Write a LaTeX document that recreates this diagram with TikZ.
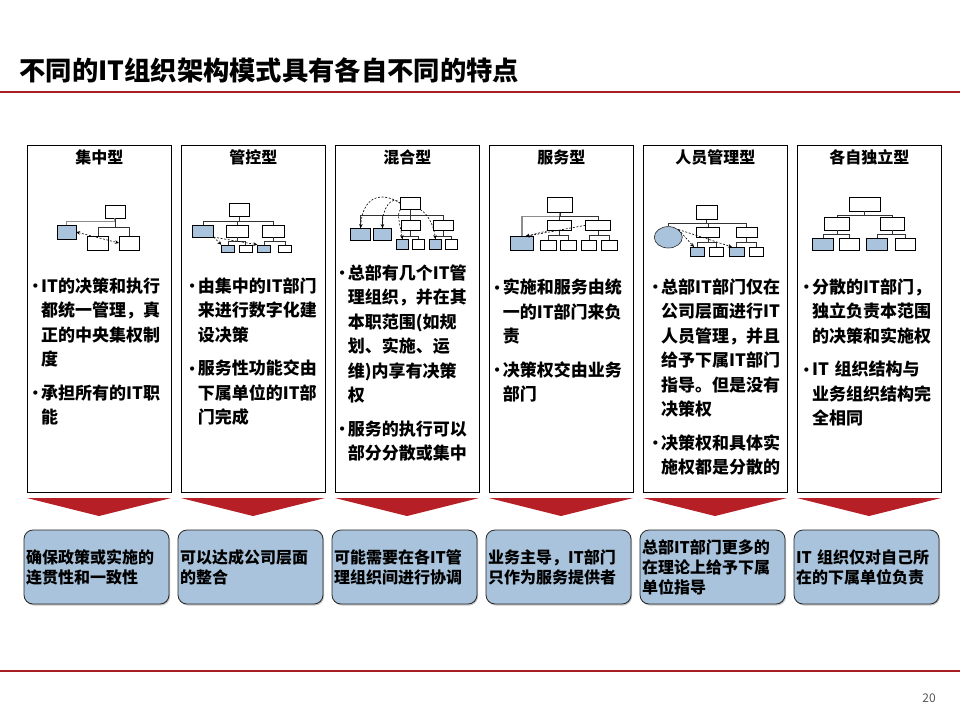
\documentclass[tikz,border=0pt]{standalone}
\usepackage{fontspec}
\setmainfont{Noto Sans CJK SC}
\newfontfamily\bulletfont{DejaVu Sans}
\usepackage{tikz}
\usetikzlibrary{arrows.meta,calc,shapes.geometric,shadows}
\definecolor{titlered}{HTML}{A81E22}
\definecolor{chevred}{HTML}{B71F26}
\definecolor{unitblue}{HTML}{A8C3DB}
\definecolor{notegrey}{HTML}{595959}
\tikzset{
  colbox/.style={draw=black, line width=0.9pt, fill=white, inner sep=0pt,
                 minimum width=144pt, minimum height=347pt},
  coltitle/.style={font=\fontsize{16}{18}\selectfont\bfseries},
  orgbox/.style 2 args={draw=black, line width=0.6pt, fill=white, inner sep=0pt,
                        minimum width=#1pt, minimum height=#2pt},
  orgblue/.style 2 args={orgbox={#1}{#2}, fill=unitblue},
  tie/.style={draw=black!80, line width=0.6pt},
  tiehq/.style={draw=black!45, line width=1.3pt},
  dasharr/.style={->, dashed, dash pattern=on 2pt off 1.6pt, line width=0.6pt},
  pts/.style={anchor=north west, inner sep=0pt, text width=145pt, align=left,
              font=\fontsize{17}{24.5}\selectfont\bfseries},
  outbox/.style={draw=black!85, line width=0.8pt, fill=unitblue, rounded corners=9pt,
                 text width=141pt, inner xsep=2pt, minimum height=74pt, align=left,
                 font=\fontsize{16}{20}\selectfont\bfseries,
                 drop shadow={shadow xshift=1pt, shadow yshift=-1.5pt, fill=black!45}},
}
\newcommand{\bpt}[1]{{\let\\\newline\hangindent=9.5pt\hangafter=1\noindent
  \makebox[9.5pt][l]{\raisebox{1.5pt}{\bulletfont\fontsize{12}{12}\selectfont •}}#1\par}}
\newcommand{\bgap}{\vspace{9pt}}

\begin{document}
\begin{tikzpicture}[x=1pt, y=-1pt, >={Stealth[length=4pt,width=3.6pt]}]
\fill[white] (0,0) rectangle (960,720);
\useasboundingbox (0,0) rectangle (960,720);

% ---------------- heading and rules ---------------------------------------
\node[anchor=west, font=\fontsize{26.3}{29}\selectfont\bfseries] (title) at (16,70)
  {不同的IT组织架构模式具有各自不同的特点};
\draw[titlered, line width=2.2pt] (0,92) -- (960,92);
\draw[titlered, line width=1.5pt] (0,671) -- (960,671);
\node[font=\fontsize{12}{13}\selectfont, text=notegrey] (pageno) at (929,698) {20};

% ---------------- the six columns -----------------------------------------
\foreach \c/\ttl in {1/集中型,2/管控型,3/混合型,4/服务型,5/人员管理型,6/各自独立型}{
  \pgfmathsetmacro{\x}{27+154*(\c-1)}
  \node[colbox, anchor=north west] (col\c) at (\x,145) {};
  \node[coltitle] (ttl\c) at ($(col\c.north)+(0,12)$) {\ttl};
  \fill[chevred] (\x,498) -- ++(144,0) -- ++(-72,18) -- cycle;
}

% ---------------- chart 1: centralised ------------------------------------
\node[orgbox={20}{13}] (hq1) at (115,211.5) {};
\node[orgblue={19}{14}] (it1) at (66.3,232) {};
\node[orgbox={21}{14}] (su1a) at (98,243) {};
\node[orgbox={20}{14}] (su1b) at (129.3,243) {};
\draw[tiehq] (hq1.south) -- ++(0,3) -| (it1.north);
\foreach \n in {su1a,su1b} \draw[tie] (hq1.south) -- ++(0,9) -| (\n.north);
\draw[dasharr, <->] (it1.east) -- (su1b.west);

% ---------------- chart 2: controlled -------------------------------------
\node[orgbox={20}{13}] (hq2) at (239.3,210) {};
\node[orgblue={21}{12}] (it2) at (202.8,230.8) {};
\node[orgbox={22}{12}] (bu2a) at (237.2,230.8) {};
\node[orgbox={22}{12}] (bu2b) at (273.3,230.8) {};
\node[orgblue={12.6}{7.3}] (it2a) at (228,248.7) {};
\node[orgbox={12.7}{7.3}] (su2a) at (245.7,248.7) {};
\node[orgblue={13}{7.3}] (it2b) at (264.2,248.7) {};
\node[orgbox={12.3}{7.3}] (su2b) at (284.8,248.7) {};
\foreach \n in {it2,bu2a,bu2b} \draw[tie] (hq2.south) -- ++(0,4) -| (\n.north);
\foreach \n in {it2a,su2a} \draw[tie] (bu2a.south) -- ++(0,4) -| (\n.north);
\foreach \n in {it2b,su2b} \draw[tie] (bu2b.south) -- ++(0,4) -| (\n.north);
\draw[dasharr] (it2.south east) -- (it2a.north west);
\draw[dasharr] (it2.south east) -- (it2b.north west);

% ---------------- chart 3: mixed ------------------------------------------
\node[orgbox={19.3}{12}] (hq3) at (410.3,203.3) {};
\node[orgblue={20}{11.7}] (it3a) at (360.7,234.2) {};
\node[orgblue={18.4}{11.7}] (it3b) at (382.5,234.2) {};
\node[orgbox={19}{10.7}] (bu3a) at (410.5,225.3) {};
\node[orgbox={20}{10.7}] (bu3b) at (443.3,225.3) {};
\node[orgblue={12.3}{10}] (it3c) at (402.2,244.3) {};
\node[orgbox={11.3}{10}] (su3c) at (418.3,244.3) {};
\node[orgblue={12.7}{10}] (it3d) at (435.3,244.3) {};
\node[orgbox={11.6}{10}] (su3d) at (451.5,244.3) {};
\foreach \n in {it3a,it3b,bu3a,bu3b} \draw[tie] (hq3.south) -- ++(0,6) -| (\n.north);
\foreach \n in {it3c,su3c} \draw[tie] (bu3a.south) -- ++(0,5.3) -| (\n.north);
\foreach \n in {it3d,su3d} \draw[tie] (bu3b.south) -- ++(0,5.3) -| (\n.north);
\draw[dasharr] (hq3.west) .. controls (380,190) and (362,198) .. (it3a.north);
\draw[dasharr] (hq3.west) .. controls (392,194) and (382,208) .. (it3b.north);
\draw[dasharr] (hq3.south west) .. controls (396,214) and (401,228) .. (it3c.north);
\draw[dasharr] (hq3.south east) .. controls (428,214) and (434,226) .. (it3d.north);

% ---------------- chart 4: service ----------------------------------------
\node[orgbox={25}{15}] (hq4) at (559.8,204.8) {};
\node[orgblue={22.6}{14}] (it4) at (522,243.7) {};
\node[orgbox={24.4}{10.7}] (bu4a) at (559.5,225.3) {};
\node[orgbox={25}{10.7}] (bu4b) at (598.2,225.3) {};
\node[orgbox={16}{10.7}] (su4a) at (548,245.3) {};
\node[orgbox={16}{10.7}] (su4b) at (568.7,245.3) {};
\node[orgbox={15}{10.7}] (su4c) at (589.2,245.3) {};
\node[orgbox={15.6}{10.7}] (su4d) at (609.5,245.3) {};
\draw[tiehq] (hq4.south) -- ++(0,4) -| (it4.north);
\foreach \n in {bu4a,bu4b} \draw[tie] (hq4.south) -- ++(0,4) -| (\n.north);
\foreach \n in {su4a,su4b} \draw[tie] (bu4a.south) -- ++(0,4.3) -| (\n.north);
\foreach \n in {su4c,su4d} \draw[tie] (bu4b.south) -- ++(0,4.3) -| (\n.north);
\draw[dasharr] (bu4a.south west) -- ($(it4.north)!0.3!(it4.north east)$);
\draw[dasharr] (bu4b.west) -- ($(it4.north)!0.3!(it4.north east)$);

% ---------------- chart 5: staff management -------------------------------
\node[orgbox={21.3}{14.3}] (hq5) at (706.7,212.2) {};
\node[ellipse, draw=black!85, line width=0.6pt, fill=unitblue, inner sep=0pt,
      minimum width=28pt, minimum height=21.4pt] (ps5) at (668.3,237.3) {};
\node[orgbox={22.3}{10}] (bu5a) at (707.8,232.3) {};
\node[orgbox={21.3}{10}] (bu5b) at (746.7,232.3) {};
\node[orgblue={14}{9.4}] (it5a) at (697,252) {};
\node[orgbox={14.3}{9.4}] (su5a) at (716.2,252) {};
\node[orgblue={14.7}{9.4}] (it5b) at (736.7,252) {};
\node[orgbox={14}{9.4}] (su5b) at (756.3,252) {};
\foreach \n in {ps5,bu5a,bu5b} \draw[tie] (hq5.south) -- ++(0,3.4) -| (\n.north);
\foreach \n in {it5a,su5a} \draw[tie] (bu5a.south) -- ++(0,5) -| (\n.north);
\foreach \n in {it5b,su5b} \draw[tie] (bu5b.south) -- ++(0,5) -| (\n.north);
\draw[dasharr] (ps5.north east) -- ($(it5a.north)+(-3,0)$);
\draw[dasharr] (ps5.north east) -- ($(it5b.north west)+(3,0)$);

% ---------------- chart 6: independent ------------------------------------
\node[orgbox={30.7}{13.7}] (hq6) at (864.7,204.2) {};
\node[orgbox={25}{12.7}] (bu6a) at (836.8,223.7) {};
\node[orgbox={24.3}{12.7}] (bu6b) at (892.2,223.7) {};
\node[orgblue={21}{12.4}] (it6a) at (822.8,244.5) {};
\node[orgbox={20}{12.4}] (su6a) at (849.3,244.5) {};
\node[orgblue={20.6}{12.4}] (it6b) at (877,244.5) {};
\node[orgbox={20.4}{12.4}] (su6b) at (905.5,244.5) {};
\foreach \n in {bu6a,bu6b} \draw[tie] (hq6.south) -- ++(0,4) -| (\n.north);
\foreach \n in {it6a,su6a} \draw[tie] (bu6a.south) -- ++(0,4.3) -| (\n.north);
\foreach \n in {it6b,su6b} \draw[tie] (bu6b.south) -- ++(0,4.3) -| (\n.north);

% ---------------- bullet texts --------------------------------------------
\node[pts] (pts1) at (31.5,277.5)
  {\bpt{IT的决策和执行\\都统一管理，真\\正的中央集权制\\度}\bgap
   \bpt{承担所有的IT职\\能}};
\node[pts] (pts2) at (188.2,277.5)
  {\bpt{由集中的IT部门\\来进行数字化建\\设决策}\bgap
   \bpt{服务性功能交由\\下属单位的IT部\\门完成}};
\node[pts] (pts3) at (338.2,264.5)
  {\bpt{总部有几个IT管\\理组织，并在其\\本职范围(如规\\划、实施、运\\维)内享有决策\\权}\bgap
   \bpt{服务的执行可以\\部分分散或集中}};
\node[pts] (pts4) at (493.2,278.5)
  {\bpt{实施和服务由统\\一的IT部门来负\\责}\bgap
   \bpt{决策权交由业务\\部门}};
\node[pts] (pts5) at (651.5,278.5)
  {\bpt{总部IT部门仅在\\公司层面进行IT\\人员管理，并且\\给予下属IT部门\\指导。但是没有\\决策权}\bgap
   \bpt{决策权和具体实\\施权都是分散的}};
\node[pts] (pts6) at (802.5,278.5)
  {\bpt{分散的IT部门，\\独立负责本范围\\的决策和实施权}\bgap
   \bpt{IT 组织结构与\\业务组织结构完\\全相同}};

% ---------------- outcome boxes -------------------------------------------
\foreach \c/\txt in {1/{确保政策或实施的\\连贯性和一致性},
                     2/{可以达成公司层面\\的整合},
                     3/{可能需要在各IT管\\理组织间进行协调},
                     4/{业务主导，IT部门\\只作为服务提供者},
                     5/{总部IT部门更多的\\在理论上给予下属\\单位指导},
                     6/{IT 组织仅对自己所\\在的下属单位负责}}{
  \pgfmathsetmacro{\x}{27+154*(\c-1)+69.5}
  \node[outbox] (out\c) at (\x,567) {\txt};
}
\end{tikzpicture}
\end{document}
